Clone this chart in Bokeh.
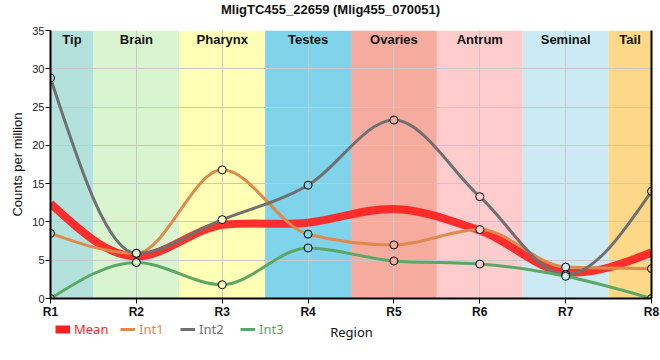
from bokeh.plotting import figure
from bokeh.models import Range1d, FixedTicker, LinearAxis, Legend, LegendItem, ColumnDataSource, Label
from bokeh.layouts import column
from bokeh.core.properties import value
from bokeh.embed import file_html
from bokeh.resources import INLINE

title_text = "MligTC455_22659 (Mlig455_070051)"
regions = ["R1", "R2", "R3", "R4", "R5", "R6", "R7", "R8"]
tissues = ["Tip", "Brain", "Pharynx", "Testes", "Ovaries", "Antrum", "Seminal", "Tail"]
band_colors = ["#B3E2DD", "#D9F5CF", "#FFFFB5", "#7FD4EB", "#F5AB9D", "#FFCCCD", "#CCEAF4", "#FDD888"]

mean = [12.4, 5.5, 9.6, 9.9, 11.7, 8.9, 3.4, 6.0]
int1 = [8.5, 5.9, 16.8, 8.4, 7.0, 9.0, 4.1, 3.9]
int2 = [28.8, 5.9, 10.3, 14.8, 23.3, 13.3, 3.1, 14.0]
int3 = [0.0, 4.7, 1.8, 6.6, 4.9, 4.5, 2.9, 0.0]

series_names = ["Mean", "Int1", "Int2", "Int3"]
series_colors = ["#FF1F1F", "#E0894C", "#707070", "#5BA765"]
y_ticks = [0, 5, 10, 15, 20, 25, 30, 35]

xs = list(range(len(regions)))
W = 660
LEFT, RIGHT = 50, 9


def sign(v):
    return (v > 0) - (v < 0)


def tangents(x, y):
    n = len(x)
    t = [0.0] * n
    for i in range(1, n - 1):
        h0 = x[i] - x[i - 1]
        h1 = x[i + 1] - x[i]
        s0 = (y[i] - y[i - 1]) / h0
        s1 = (y[i + 1] - y[i]) / h1
        pp = (s0 * h1 + s1 * h0) / (h0 + h1)
        t[i] = (sign(s0) + sign(s1)) * min(abs(s0), abs(s1), 0.5 * abs(pp))
    t[0] = (3 * (y[1] - y[0]) / (x[1] - x[0]) - t[1]) / 2
    t[-1] = (3 * (y[-1] - y[-2]) / (x[-1] - x[-2]) - t[-2]) / 2
    return t


def bezier_source(x, y, t):
    d = dict(x0=[], y0=[], x1=[], y1=[], cx0=[], cy0=[], cx1=[], cy1=[])
    for i in range(len(x) - 1):
        dx = x[i + 1] - x[i]
        d["x0"].append(x[i]); d["y0"].append(y[i])
        d["x1"].append(x[i + 1]); d["y1"].append(y[i + 1])
        d["cx0"].append(x[i] + dx / 3); d["cy0"].append(y[i] + dx * t[i] / 3)
        d["cx1"].append(x[i + 1] - dx / 3); d["cy1"].append(y[i + 1] - dx * t[i + 1] / 3)
    return ColumnDataSource(d)


def blank_strip(height):
    # frame aligned with the main plot frame; x data units == page pixels
    f = figure(width=W, height=height, x_range=Range1d(LEFT, W - RIGHT), y_range=Range1d(0, height),
               output_backend="svg", toolbar_location=None, min_border=0,
               min_border_left=LEFT, min_border_right=RIGHT,
               x_axis_location=None, y_axis_location=None)
    f.grid.visible = False
    f.outline_line_color = None
    return f


# ---- title strip
top = blank_strip(20)
top.add_layout(Label(x=330, y=11, text=title_text, text_align="center", text_baseline="middle",
                     text_font="Liberation Sans", text_font_size="13px", text_font_style="bold",
                     text_color="#111111"))

# ---- main plot
p = figure(width=W, height=301, x_range=Range1d(0, len(regions) - 1), y_range=Range1d(0, 35),
           output_backend="svg", toolbar_location=None,
           min_border_left=LEFT, min_border_right=RIGHT, min_border_top=10, min_border_bottom=21)
p.outline_line_color = None

band_left = [max(i - 0.5, 0) for i in xs]
band_right = [min(i + 0.5, len(regions) - 1) for i in xs]
bands = p.quad(left=band_left, right=band_right, bottom=0, top=35, fill_color=band_colors,
               line_color=None)
bands.level = "image"

p.text(x=[(l + r) / 2 for l, r in zip(band_left, band_right)], y=[35] * len(tissues), text=tissues,
       text_font=value("Liberation Sans"), text_font_size="13px", text_font_style="bold",
       text_align="center", text_baseline="middle", y_offset=9, text_color="#111111")

p.xgrid.ticker = FixedTicker(ticks=xs)
p.ygrid.ticker = FixedTicker(ticks=y_ticks)
for g in (p.xgrid, p.ygrid):
    g.grid_line_color = "#C8C8C8"
    g.grid_line_width = 1

# curves (monotone cubic); the mean curve is the pointwise mean of the three curves
ints = [int1, int2, int3]
int_tangents = [tangents(xs, v) for v in ints]
mean_tangents = [sum(ts) / 3 for ts in zip(*int_tangents)]

srcs = [bezier_source(xs, mean, mean_tangents)] + [bezier_source(xs, v, t) for v, t in zip(ints, int_tangents)]
for name, col, src in zip(series_names, series_colors, srcs):
    lw = 8 if name == "Mean" else 3
    alpha = 0.92 if name == "Mean" else 1.0
    p.bezier(x0="x0", y0="y0", x1="x1", y1="y1", cx0="cx0", cy0="cy0", cx1="cx1", cy1="cy1",
             source=src, line_color=col, line_width=lw, line_alpha=alpha)

for vals in ints:
    p.scatter(x=xs, y=vals, size=8, marker="circle", fill_color=band_colors, line_color="black",
              line_width=1)

p.xaxis.ticker = FixedTicker(ticks=xs)
p.xaxis.major_label_overrides = {i: lab for i, lab in zip(xs, regions)}
p.yaxis.ticker = FixedTicker(ticks=y_ticks)
for ax in (p.xaxis, p.yaxis):
    ax.axis_line_width = 2
    ax.axis_line_color = "black"
    ax.major_tick_line_color = "black"
    ax.major_tick_out = 5
    ax.major_tick_in = 0
    ax.minor_tick_line_color = None
    ax.minor_tick_out = 0

p.xaxis.major_label_standoff = 1
p.xaxis.major_label_text_font = "Liberation Sans"
p.xaxis.major_label_text_font_size = "12px"
p.xaxis.major_label_text_font_style = "bold"
p.xaxis.major_label_text_color = "#111111"

p.yaxis.major_label_standoff = 1
p.yaxis.major_label_text_font = "Liberation Sans"
p.yaxis.major_label_text_font_size = "11px"
p.yaxis.major_label_text_color = "#222222"
p.yaxis.axis_label = "Counts per million"
p.yaxis.axis_label_text_font = "Liberation Sans"
p.yaxis.axis_label_text_font_size = "13px"
p.yaxis.axis_label_text_font_style = "normal"
p.yaxis.axis_label_text_color = "#111111"
p.yaxis.axis_label_standoff = 4

right_axis = LinearAxis(axis_line_width=2, axis_line_color="black", ticker=FixedTicker(ticks=[]),
                        major_tick_line_color=None, minor_tick_line_color=None,
                        major_tick_out=0, minor_tick_out=0, major_label_standoff=0)
p.add_layout(right_axis, "right")

# ---- bottom strip: legend + x-axis title
strip = blank_strip(37)
legend_x = [5, 70, 130, 190]
for name, col, lx in zip(series_names, series_colors, legend_x):
    lw = 8 if name == "Mean" else 3
    dummy = strip.line(x=[-100, -90], y=[-100, -100], line_color=col, line_width=lw)
    lg = Legend(items=[LegendItem(label=name, renderers=[dummy])], location=(lx, 20),
                orientation="horizontal", padding=0, margin=0, border_line_color=None,
                background_fill_alpha=0, glyph_width=15, glyph_height=16, label_height=16,
                label_standoff=4, label_text_font="Noto Sans", label_text_font_size="13px",
                label_text_color=col, label_text_baseline="middle")
    strip.add_layout(lg, "center")

strip.add_layout(Label(x=351, y=27, text="Region", text_align="center", text_baseline="middle",
                       text_font="Noto Sans", text_font_size="13px", text_color="#111111"))

layout = column(top, p, strip, spacing=0)
open("out.html", "w").write(file_html(layout, INLINE))
